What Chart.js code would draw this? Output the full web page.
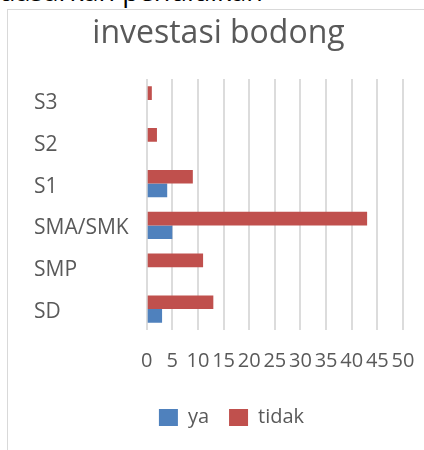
<!DOCTYPE html>
<html>
<head>
<meta charset="utf-8">
<script src="https://cdn.jsdelivr.net/npm/chart.js@4/dist/chart.umd.min.js"></script>
<style>
  html, body { margin: 0; padding: 0; background: #ffffff; }
  #wrap { position: relative; width: 424px; height: 450px; overflow: hidden; }
  #cut { position: absolute; left: -1px; top: -23px; font-family: "Open Sans", sans-serif; font-size: 27px; line-height: 27px; color: #000; white-space: nowrap; }
  #frame { position: absolute; left: 7px; top: 9px; right: -2px; bottom: -2px; border-left: 1px solid #d9d9d9; border-top: 1px solid #d9d9d9; pointer-events: none; }
  canvas { position: absolute; left: 0; top: 0; }
</style>
</head>
<body>
<div id="wrap">
  <div id="cut">dasarkan pendidikan</div>
  <div id="frame"></div>
  <canvas id="c" width="424" height="450"></canvas>
</div>
<script>
const categories = ['S3', 'S2', 'S1', 'SMA/SMK', 'SMP', 'SD'];
const tidakValues = [1, 2, 9, 43, 11, 13];
const yaValues = [0, 0, 4, 5, 0, 3];
const xTickValues = [0, 5, 10, 15, 20, 25, 30, 35, 40, 45, 50];
const titleText = 'investasi bodong';
const seriesNames = ['tidak', 'ya'];

const legendNudge = {
  id: 'legendNudge',
  afterLayout(chart) {
    const lg = chart.legend;
    if (lg) { lg.left += 13; lg.right += 13; }
  }
};

new Chart(document.getElementById('c'), {
  type: 'bar',
  data: {
    labels: categories,
    datasets: [
      { label: seriesNames[0], data: tidakValues, backgroundColor: '#c0504d', categoryPercentage: 0.653, barPercentage: 1 },
      { label: seriesNames[1], data: yaValues, backgroundColor: '#4f81bd', categoryPercentage: 0.653, barPercentage: 1 }
    ]
  },
  options: {
    indexAxis: 'y',
    responsive: false,
    animation: false,
    devicePixelRatio: 1,
    layout: { padding: { left: 34, right: 21, top: 0, bottom: 12.5 } },
    scales: {
      x: {
        min: 0, max: 50,
        afterBuildTicks(scale) { scale.ticks = xTickValues.map(v => ({ value: v })); },
        afterFit(scale) { scale.height = 57.5; scale.paddingRight = 0; },
        grid: { color: '#dcdcdc', lineWidth: 2, drawTicks: false },
        border: { display: false },
        ticks: { autoSkip: false, maxRotation: 0, minRotation: 0, padding: 19.5, color: '#595959', font: { family: 'Open Sans', size: 20 } }
      },
      y: {
        afterFit(scale) { scale.width = 112.7; },
        grid: { display: false },
        border: { display: false },
        ticks: { crossAlign: 'far', labelOffset: 3, color: '#595959', font: { family: 'Open Sans', size: 21 } }
      }
    },
    plugins: {
      title: { display: true, text: titleText, color: '#595959', font: { family: 'Open Sans', size: 32, weight: 'normal' }, padding: { top: 14.4, bottom: 26.2 } },
      legend: {
        position: 'bottom',
        reverse: true,
        labels: { boxWidth: 19, boxHeight: 17, padding: 20, color: '#595959', font: { family: 'Open Sans', size: 20 } }
      },
      tooltip: { enabled: false }
    }
  },
  plugins: [legendNudge]
});
</script>
</body>
</html>
